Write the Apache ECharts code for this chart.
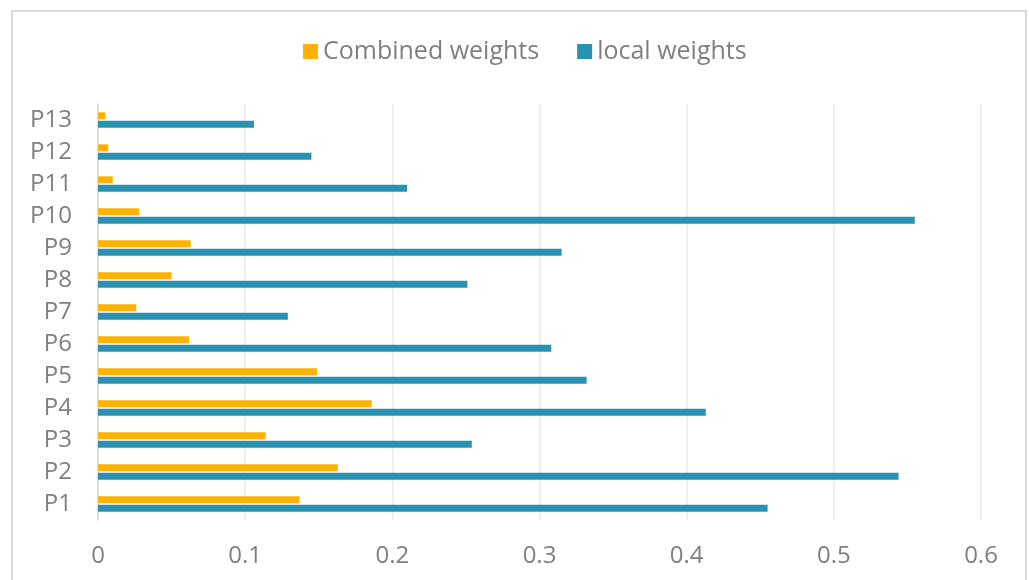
<!DOCTYPE html>
<html>
<head>
<meta charset="utf-8">
<script src="https://cdn.jsdelivr.net/npm/echarts@6/dist/echarts.min.js"></script>
<style>
html,body{margin:0;padding:0;background:#fff;}
#chart{width:1029px;height:580px;}
</style>
</head>
<body>
<div id="chart"></div>
<script>
const categories = ['P1','P2','P3','P4','P5','P6','P7','P8','P9','P10','P11','P12','P13'];
const combinedWeights = [0.137, 0.163, 0.114, 0.186, 0.149, 0.062, 0.026, 0.050, 0.063, 0.028, 0.010, 0.007, 0.005];
const localWeights = [0.455, 0.544, 0.254, 0.413, 0.332, 0.308, 0.129, 0.251, 0.315, 0.555, 0.210, 0.145, 0.106];
const xTicks = { min: 0, max: 0.6, interval: 0.1 };

const chart = echarts.init(document.getElementById('chart'), null, {renderer: 'canvas'});
const fontFam = '"Open Sans", "Noto Sans", sans-serif';
chart.setOption({
  animation: false,
  graphic: [{
    type: 'rect',
    shape: {x: 12, y: 11, width: 1014, height: 620},
    style: {fill: 'none', stroke: '#d9d9d9', lineWidth: 2},
    silent: true
  }],
  legend: {
    top: 34,
    left: 298,
    itemWidth: 15,
    itemHeight: 15,
    itemGap: 38,
    icon: 'rect',
    textStyle: {color: '#7f7f7f', fontSize: 25, fontFamily: fontFam, padding: [0,0,0,0]},
    data: ['Combined weights', 'local weights']
  },
  grid: {left: 98, right: 48, top: 104, bottom: 60, containLabel: false},
  xAxis: {
    type: 'value',
    min: xTicks.min, max: xTicks.max, interval: xTicks.interval,
    axisLine: {show: false},
    axisTick: {show: false},
    splitLine: {lineStyle: {color: '#ebebeb', width: 1.5}},
    axisLabel: {color: '#7f7f7f', fontSize: 24, fontFamily: fontFam, margin: 24,
      formatter: v => String(Math.round(v*10)/10)}
  },
  yAxis: {
    type: 'category',
    data: categories,
    axisLine: {show: true, lineStyle: {color: '#d9d9d9', width: 1.5}},
    axisTick: {show: false},
    axisLabel: {color: '#7f7f7f', fontSize: 24, fontFamily: fontFam, margin: 26}
  },
  series: [
    {name: 'Combined weights', type: 'bar', data: combinedWeights, barWidth: 7, barGap: '20%',
     itemStyle: {color: '#ffb300'}},
    {name: 'local weights', type: 'bar', data: localWeights, barWidth: 7, barGap: '20%',
     itemStyle: {color: '#2893b0'}}
  ]
});
</script>
</body>
</html>
